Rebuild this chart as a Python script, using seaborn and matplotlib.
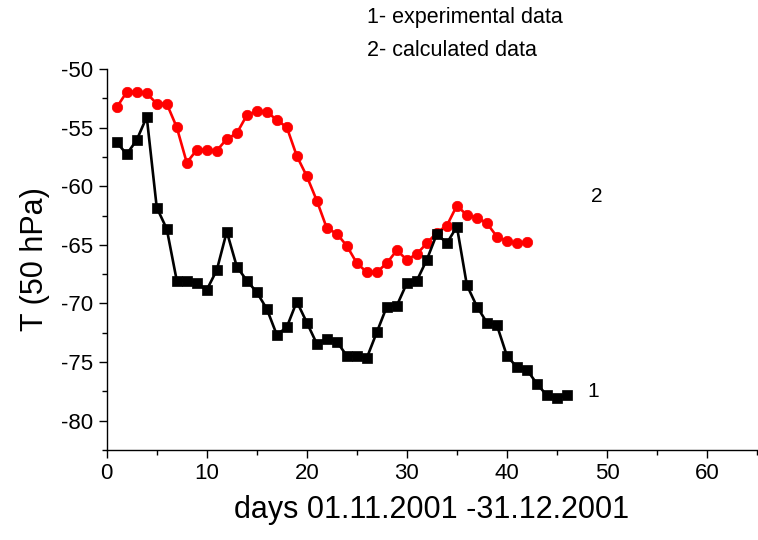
import matplotlib
matplotlib.use("Agg")
import matplotlib.pyplot as plt
import seaborn as sns
import pandas as pd
from matplotlib.ticker import MultipleLocator

days_exp = list(range(1, 47))
temp_exp = [-56.25, -57.27, -56.05, -54.09, -61.82, -63.64, -68.05, -68.05, -68.27, -68.84,
            -67.16, -63.87, -66.85, -68.05, -69.04, -70.46, -72.68, -72.02, -69.84, -71.63,
            -73.44, -73.04, -73.25, -74.47, -74.52, -74.64, -72.45, -70.26, -70.18, -68.27,
            -68.05, -66.26, -64.07, -64.86, -63.44, -68.44, -70.26, -71.63, -71.85, -74.47,
            -75.43, -75.66, -76.85, -77.85, -78.07, -77.85]

days_calc = list(range(1, 43))
temp_calc = [-53.27, -51.96, -51.96, -52.07, -52.96, -52.96, -54.97, -57.99, -56.9, -56.9,
             -56.96, -55.97, -55.48, -53.95, -53.58, -53.64, -54.35, -54.97, -57.42, -59.15,
             -61.23, -63.58, -64.04, -65.09, -66.56, -67.33, -67.33, -66.56, -65.46, -66.28,
             -65.77, -64.86, -63.95, -63.36, -61.65, -62.47, -62.68, -63.15, -64.3, -64.66,
             -64.86, -64.77]

legend_lines = ["1- experimental data", "2- calculated data"]
curve_labels = ["1", "2"]
x_label = "days 01.11.2001 -31.12.2001"
y_label = "T (50 hPa)"

sns.set_style("ticks")
plt.rcParams['font.family'] = ['Liberation Sans', 'DejaVu Sans']
plt.rcParams['axes.unicode_minus'] = False
for k in ['text.color', 'axes.labelcolor', 'xtick.color', 'ytick.color', 'axes.edgecolor']:
    plt.rcParams[k] = 'black'

fig = plt.figure(figsize=(7.58, 5.40), dpi=100)
ax = fig.add_axes([0.1408, 0.1667, 0.8579, 0.7055])

df_exp = pd.DataFrame({"day": days_exp, "T": temp_exp})
df_calc = pd.DataFrame({"day": days_calc, "T": temp_calc})

sns.lineplot(data=df_calc, x="day", y="T", ax=ax, color="#ff0000", marker="o",
             markersize=7.5, markeredgecolor="#ff0000", markeredgewidth=0.5, linewidth=1.9)
sns.lineplot(data=df_exp, x="day", y="T", ax=ax, color="black", marker="s",
             markersize=7, markeredgecolor="black", markeredgewidth=0.5, linewidth=1.9)

ax.set_xlim(0, 65)
ax.set_ylim(-82.5, -50)
ax.set_xticks(range(0, 61, 10))
ax.xaxis.set_minor_locator(MultipleLocator(5))
ax.yaxis.set_major_locator(MultipleLocator(5))
ax.yaxis.set_minor_locator(MultipleLocator(2.5))
ax.tick_params(axis="both", which="major", labelsize=16, length=6, width=1, color="black",
               labelcolor="black", direction="out")
ax.tick_params(axis="both", which="minor", length=3.5, width=1, color="black", direction="out")

for s in ["top", "right"]:
    ax.spines[s].set_visible(False)
for s in ["left", "bottom"]:
    ax.spines[s].set_color("black")
    ax.spines[s].set_linewidth(1)

ax.set_xlabel(x_label, fontsize=22, labelpad=8, color="black")
ax.set_ylabel(y_label, fontsize=22, labelpad=8, color="black")

ax.text(48.0, -77.5, curve_labels[0], fontsize=15, ha="left", va="center", color="black")
ax.text(48.4, -60.9, curve_labels[1], fontsize=15, ha="left", va="center", color="black")

fig.text(367 / 758, 1 - 18 / 540, legend_lines[0], fontsize=15.5, ha="left", va="center", color="black")
fig.text(367 / 758, 1 - 50 / 540, legend_lines[1], fontsize=15.5, ha="left", va="center", color="black")

fig.savefig("out.png", dpi=100)
